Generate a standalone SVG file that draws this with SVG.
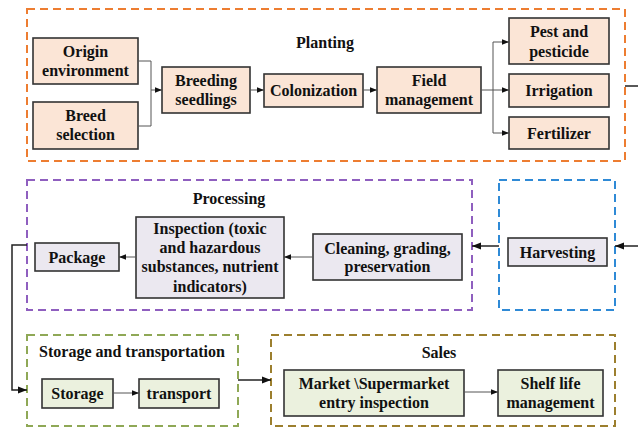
<svg xmlns="http://www.w3.org/2000/svg" width="638" height="428" viewBox="0 0 638 428" font-family="Liberation Serif, Times New Roman, Times, Noto Serif, DejaVu Serif, serif">
<style>
text{font-weight:bold;font-size:16px;fill:#111;text-anchor:middle}
.grp{fill:none;stroke-width:2;stroke-dasharray:8 5}
.n{stroke:#333;stroke-width:1.6}
.pl{fill:#fbe5d6}.pr{fill:#ebe8f0}.gr{fill:#ebf1de}
.c{fill:none;stroke:#555;stroke-width:1}
.ct{fill:none;stroke:#222;stroke-width:1.5}
</style>
<defs>
<marker id="a" viewBox="0 0 10 10" refX="10" refY="5" markerWidth="7" markerHeight="7" markerUnits="userSpaceOnUse" orient="auto"><path d="M0,1 L10,5 L0,9 z" fill="#111"/></marker>
<marker id="b" viewBox="0 0 10 10" refX="10" refY="5" markerWidth="9" markerHeight="9" markerUnits="userSpaceOnUse" orient="auto"><path d="M0,1 L10,5 L0,9 z" fill="#111"/></marker>
</defs>

<g id="planting">
<rect class="grp" x="27" y="9" width="598" height="152" stroke="#ed7d31"/>
<text x="325" y="47.5">Planting</text>
</g>
<g id="processing">
<rect class="grp" x="27" y="180" width="445" height="130" stroke="#8f5fbf"/>
<text x="229" y="203.5">Processing</text>
</g>
<g id="harvest-group">
<rect class="grp" x="499" y="180" width="116" height="130" stroke="#2f8ad6"/>
</g>
<g id="storage-group">
<rect class="grp" x="27" y="335" width="211" height="91" stroke="#8fa856"/>
<text x="132" y="356.5">Storage and transportation</text>
</g>
<g id="sales-group">
<rect class="grp" x="271" y="335" width="344" height="91" stroke="#9c7f2e"/>
<text x="439" y="357.5">Sales</text>
</g>

<g id="origin"><rect class="n pl" x="33" y="38" width="105" height="46"/><text x="85.5" y="56.5">Origin</text><text x="85.5" y="75.5">environment</text></g>
<g id="breed"><rect class="n pl" x="33" y="102" width="105" height="47"/><text x="85.5" y="120.5">Breed</text><text x="85.5" y="140">selection</text></g>
<g id="seedlings"><rect class="n pl" x="162" y="67" width="88" height="46"/><text x="206" y="86">Breeding</text><text x="206" y="105">seedlings</text></g>
<g id="colonization"><rect class="n pl" x="264" y="74" width="99" height="33"/><text x="313.5" y="95.5">Colonization</text></g>
<g id="field"><rect class="n pl" x="377" y="67" width="104" height="46"/><text x="429" y="86">Field</text><text x="429" y="105">management</text></g>
<g id="pest"><rect class="n pl" x="509" y="18" width="100" height="46"/><text x="559" y="36.5">Pest and</text><text x="559" y="56.5">pesticide</text></g>
<g id="irrigation"><rect class="n pl" x="509" y="74" width="100" height="33"/><text x="559" y="96">Irrigation</text></g>
<g id="fertilizer"><rect class="n pl" x="509" y="117" width="100" height="32"/><text x="559" y="138.5">Fertilizer</text></g>

<g id="package"><rect class="n pr" x="35" y="243" width="84" height="28"/><text x="77" y="262.5">Package</text></g>
<g id="inspection"><rect class="n pr" x="136" y="217" width="148" height="81"/><text x="210" y="233.5">Inspection (toxic</text><text x="210" y="252.5">and hazardous</text><text x="210" y="272">substances, nutrient</text><text x="210" y="291.5">indicators)</text></g>
<g id="cleaning"><rect class="n pr" x="313" y="234" width="149" height="46"/><text x="387.5" y="253.5">Cleaning, grading,</text><text x="387.5" y="272">preservation</text></g>
<g id="harvesting"><rect class="n pr" x="508" y="238" width="99" height="28"/><text x="557.5" y="257.5">Harvesting</text></g>

<g id="storage"><rect class="n gr" x="42" y="379" width="71" height="29"/><text x="77.5" y="398.5">Storage</text></g>
<g id="transport"><rect class="n gr" x="139" y="379" width="80" height="29"/><text x="179" y="398.5">transport</text></g>
<g id="market"><rect class="n gr" x="284" y="370" width="180" height="46"/><text x="374" y="388.5">Market \Supermarket</text><text x="374" y="407.5">entry inspection</text></g>
<g id="shelf"><rect class="n gr" x="498" y="370" width="105" height="46"/><text x="550.5" y="388.5">Shelf life</text><text x="550.5" y="407.5">management</text></g>

<g id="connectors">
<path class="c" d="M138,61 H151 V126 H138"/>
<path class="c" d="M151,90 H162" marker-end="url(#a)"/>
<path class="c" d="M250,90 H264" marker-end="url(#a)"/>
<path class="c" d="M363,90 H377" marker-end="url(#a)"/>
<path class="c" d="M481,90 H509" marker-end="url(#a)"/>
<path class="c" d="M493,90 V42 H509" marker-end="url(#a)"/>
<path class="c" d="M493,90 V133 H509" marker-end="url(#a)"/>
<path class="ct" d="M625,86 H638"/>
<path class="ct" d="M638,246 H615" marker-end="url(#b)"/>
<path class="ct" d="M499,246 H472" marker-end="url(#b)"/>
<path class="c" d="M313,257 H284" marker-end="url(#a)"/>
<path class="c" d="M136,257 H119" marker-end="url(#a)"/>
<path class="ct" d="M27,245 H12 V390 H27" marker-end="url(#b)"/>
<path class="c" d="M113,393 H139" marker-end="url(#a)"/>
<path class="ct" d="M238,380 H271" marker-end="url(#b)"/>
<path class="c" d="M464,392 H498" marker-end="url(#a)"/>
</g>
</svg>
